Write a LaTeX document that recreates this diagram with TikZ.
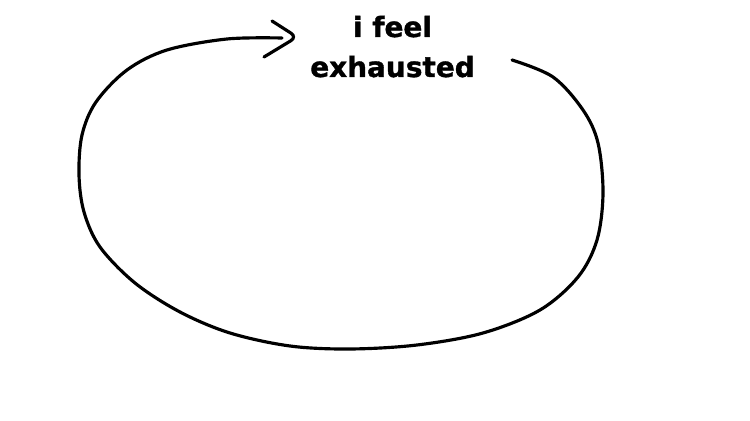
\documentclass[tikz,border=0pt]{standalone}
\usepackage{fontspec}
\setmainfont{DejaVu Sans}[BoldFeatures={FakeBold=1.2}]
\usepackage{tikz}

\tikzset{
    pen/.style={line width=1.8pt, line cap=round, line join=round, black},
    caption/.style={font=\bfseries\fontsize{15.9}{22.8}\selectfont, inner sep=0pt, anchor=base}
}

\begin{document}
\begin{tikzpicture}[x=0.02cm, y=-0.02cm]
        \useasboundingbox[fill=white] (0, 0) rectangle (750, 421);

        \node[caption] (feel) at (392.5, 37) {i feel};
        \node[caption] (exhausted) at (392.5, 77) {exhausted};

        \coordinate (loopstart) at (512, 60);
        \coordinate (shaftend) at (282, 38);
        \coordinate (headtop) at (272, 21);
        \coordinate (headtip) at (297, 37);
        \coordinate (headbottom) at (264, 57);

        % the loop
        \draw[pen] plot[smooth, tension=0.55] coordinates {
            (loopstart) (553, 77) (583, 110) (598, 143) (603, 193) (597, 240)
            (578, 277) (540, 310) (483, 333) (417, 345) (350, 349) (290, 346)
            (230, 333) (180, 312) (135, 283) (100, 247) (84, 212) (79, 175)
            (82, 135) (96, 102) (127, 70) (167, 50) (227, 39) (shaftend)};

        % the arrow head
        \draw[pen, rounded corners=4pt] (headtop) -- (headtip) -- (headbottom);
\end{tikzpicture}
\end{document}
